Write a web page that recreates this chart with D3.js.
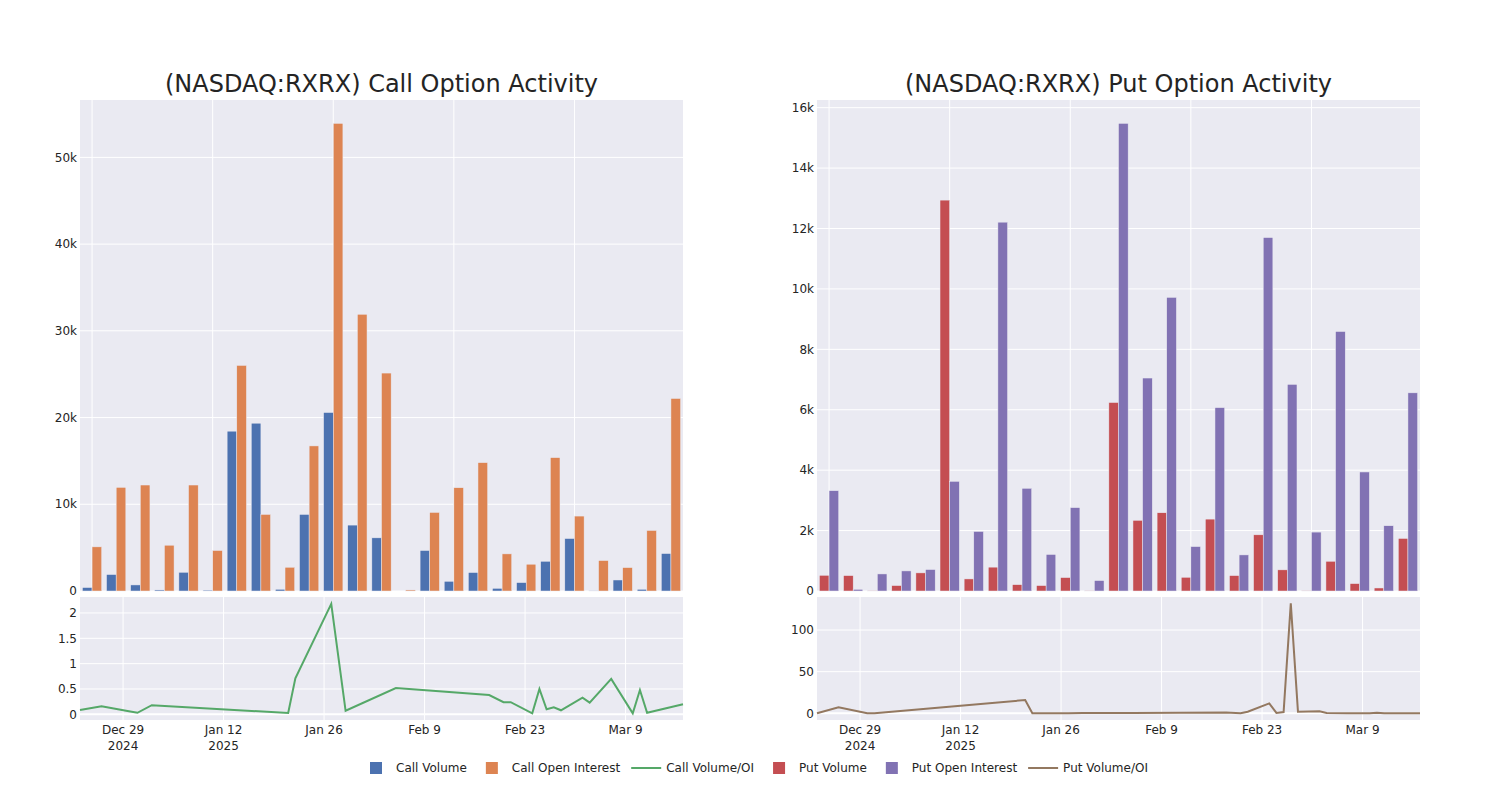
<!DOCTYPE html>
<html><head><meta charset="utf-8">
<script src="https://cdn.jsdelivr.net/npm/d3@7"></script>
<style>body{margin:0;background:#fff}svg{font-family:"DejaVu Sans",sans-serif}</style>
</head><body><svg id="c" width="1500" height="800"></svg>
<script>
const dates = ["2024-12-23","2024-12-26","2024-12-30","2024-12-31","2025-01-02","2025-01-21","2025-01-22","2025-01-27","2025-01-29","2025-02-05","2025-02-18","2025-02-20","2025-02-21","2025-02-24","2025-02-25","2025-02-26","2025-02-27","2025-02-28","2025-03-03","2025-03-04","2025-03-07","2025-03-10","2025-03-11","2025-03-12","2025-03-17"];
const callVolume = [400,1900,700,120,2160,100,18430,19350,200,8830,20580,7600,6130,0,4670,1120,2130,310,970,3430,6050,30,1270,200,4320];
const callOI = [5090,11950,12220,5280,12220,4670,26010,8830,2740,16730,53920,31910,25130,120,9060,11910,14800,4280,3090,15380,8640,3510,2700,6980,22200];
const callRatio = [0.085,0.16,0.057,0.03,0.18,0.025,0.71,2.18,0.07,0.52,0.38,0.24,0.24,0.02,0.5,0.1,0.14,0.08,0.33,0.23,0.70,0.02,0.48,0.03,0.2];
const putVolume = [520,510,10,180,600,12940,400,790,210,180,445,10,6240,2340,2590,455,2380,510,1860,700,10,985,245,100,1740];
const putOI = [3320,55,565,665,710,3630,1970,12210,3400,1210,2760,345,15480,7050,9720,1470,6070,1195,11700,6840,1950,8590,3940,2160,6560];
const putRatio = [0,7.2,0,0,1.5,16,0,0.2,0.3,0.5,1,0,2,12,0.5,1.5,132,2,2.5,0.5,0,0,0.8,0,0];
const callTopTicks = [0,10000,20000,30000,40000,50000];
const callLowTicks = [0,0.5,1,1.5,2];
const putTopTicks = [0,2000,4000,6000,8000,10000,12000,14000,16000];
const putLowTicks = [0,50,100];
const dateTicks = ["2024-12-29","2025-01-12","2025-01-26","2025-02-09","2025-02-23","2025-03-09"];
const dateTickLabels = [["Dec 29","2024"],["Jan 12","2025"],["Jan 26"],["Feb 9"],["Feb 23"],["Mar 9"]];
const titles = ["(NASDAQ:RXRX) Call Option Activity","(NASDAQ:RXRX) Put Option Activity"];
const legendItems = [
  {label:"Call Volume", type:"bar", color:"#4C72B0"},
  {label:"Call Open Interest", type:"bar", color:"#DD8452"},
  {label:"Call Volume/OI", type:"line", color:"#55A868"},
  {label:"Put Volume", type:"bar", color:"#C44E52"},
  {label:"Put Open Interest", type:"bar", color:"#8172B3"},
  {label:"Put Volume/OI", type:"line", color:"#937860"}
];

const svg = d3.select("#c");
const parse = d3.utcParse("%Y-%m-%d");
const D = dates.map(parse);
const TXT = "rgb(36,36,36)";
const BG = "rgb(234,234,242)";

function panel(o){
  const g = svg.append("g");
  const top0 = 100, top1 = 591, low0 = 597, low1 = 720;
  g.append("text").attr("x",(o.x0+o.x1)/2).attr("y",92).attr("text-anchor","middle")
    .attr("font-size",24).attr("fill",TXT).text(o.title);
  const xb = d3.scaleBand().domain(d3.range(dates.length)).range([o.x0,o.x1]).paddingInner(0.2).paddingOuter(0.1);
  const xs = d3.scaleBand().domain([0,1]).range([0,xb.bandwidth()]);
  const maxV = d3.max(o.oi.concat(o.vol))*1.05;
  const yt = d3.scaleLinear().domain([0,maxV]).range([top1,top0]);
  g.append("rect").attr("x",o.x0).attr("y",top0).attr("width",o.x1-o.x0).attr("height",top1-top0).attr("fill",BG);
  [0,5,10,15,20].forEach(i=>{
    const x = xb(i)+xb.bandwidth()/2;
    g.append("line").attr("x1",x).attr("x2",x).attr("y1",top0).attr("y2",top1).attr("stroke","#fff").attr("stroke-width",1);
  });
  o.topTicks.forEach(t=>{
    g.append("line").attr("x1",o.x0).attr("x2",o.x1).attr("y1",yt(t)).attr("y2",yt(t)).attr("stroke","#fff").attr("stroke-width",1);
    g.append("text").attr("x",o.x0-3).attr("y",yt(t)).attr("dy","0.35em").attr("text-anchor","end")
      .attr("font-size",12).attr("fill",TXT).text(t===0?"0":(t/1000)+"k");
  });
  [o.vol,o.oi].forEach((arr,si)=>{
    g.selectAll(null).data(arr).enter().append("rect")
      .attr("x",(d,i)=>xb(i)+xs(si)).attr("width",xs.bandwidth())
      .attr("y",d=>yt(d)).attr("height",d=>Math.max(0,top1-yt(d)))
      .attr("fill",o.colors[si]).attr("stroke",BG).attr("stroke-width",0.5);
  });
  const xt = d3.scaleUtc().domain(d3.extent(D)).range([o.x0,o.x1]);
  const yl = d3.scaleLinear().domain(o.lowDomain).range([low1,low0]);
  g.append("rect").attr("x",o.x0).attr("y",low0).attr("width",o.x1-o.x0).attr("height",low1-low0).attr("fill",BG);
  dateTicks.forEach((s,i)=>{
    const x = xt(parse(s));
    g.append("line").attr("x1",x).attr("x2",x).attr("y1",low0).attr("y2",low1).attr("stroke","#fff").attr("stroke-width",1);
    dateTickLabels[i].forEach((l,j)=>{
      g.append("text").attr("x",x).attr("y",733.5+j*16).attr("text-anchor","middle").attr("font-size",12).attr("fill",TXT).text(l);
    });
  });
  o.lowTicks.forEach(t=>{
    g.append("line").attr("x1",o.x0).attr("x2",o.x1).attr("y1",yl(t)).attr("y2",yl(t)).attr("stroke","#fff").attr("stroke-width",t===0?2:1);
    g.append("text").attr("x",o.x0-3).attr("y",yl(t)).attr("dy","0.35em").attr("text-anchor","end")
      .attr("font-size",12).attr("fill",TXT).text(t);
  });
  const line = d3.line().x((d,i)=>xt(D[i])).y(d=>yl(d));
  g.append("path").datum(o.ratio).attr("d",line).attr("fill","none").attr("stroke",o.colors[2]).attr("stroke-width",2);
}

panel({x0:80,x1:683,title:titles[0],vol:callVolume,oi:callOI,ratio:callRatio,colors:["#4C72B0","#DD8452","#55A868"],
  topTicks:callTopTicks,lowTicks:callLowTicks,lowDomain:[-0.112,2.315]});
panel({x0:817,x1:1420,title:titles[1],vol:putVolume,oi:putOI,ratio:putRatio,colors:["#C44E52","#8172B3","#937860"],
  topTicks:putTopTicks,lowTicks:putLowTicks,lowDomain:[-8,139.6]});

// legend
const lg = svg.append("g").attr("font-size",12).attr("fill",TXT);
let lx = 370;
const ly = 768;
legendItems.forEach((it,k)=>{
  const gi = lg.append("g");
  let t;
  if(it.type==="bar"){
    gi.append("rect").attr("x",lx).attr("y",ly-6).attr("width",12).attr("height",12).attr("fill",it.color);
    t = gi.append("text").attr("x",lx+26).attr("y",ly).attr("dy","0.35em").attr("fill",TXT).text(it.label);
    lx += 26 + t.node().getComputedTextLength();
  } else {
    gi.append("line").attr("x1",lx).attr("x2",lx+30).attr("y1",ly).attr("y2",ly).attr("stroke",it.color).attr("stroke-width",2);
    t = gi.append("text").attr("x",lx+35).attr("y",ly).attr("dy","0.35em").attr("fill",TXT).text(it.label);
    lx += 35 + t.node().getComputedTextLength();
  }
  const nxt = legendItems[k+1];
  if(nxt) lx += nxt.type==="bar" ? 19 : 11;
});
</script></body></html>
